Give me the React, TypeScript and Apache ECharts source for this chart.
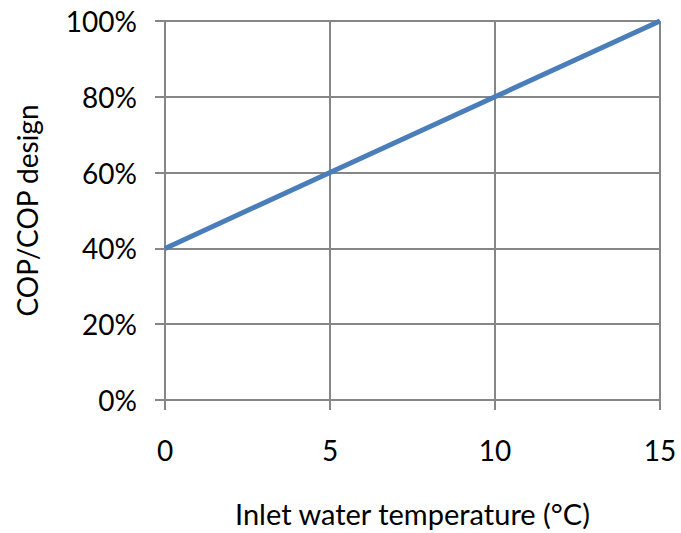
import React, { useEffect, useRef } from "react";
import * as echarts from "echarts";

const temps = [0, 5, 10, 15];
const copRatio = [40, 60, 80, 100];

export default function App() {
  const ref = useRef<HTMLDivElement>(null);
  useEffect(() => {
    const chart = echarts.init(ref.current!, null, { renderer: "svg" });
    const font = "Lato, 'Open Sans', sans-serif";
    chart.setOption({
      animation: false,
      grid: { left: 165, right: 21, top: 21, bottom: 131 },
      xAxis: {
        type: "value",
        min: 0,
        max: 15,
        interval: 5,
        name: "Inlet water temperature (°C)",
        nameLocation: "middle",
        nameGap: 99,
        nameTextStyle: { fontSize: 29, color: "#000", fontFamily: font },
        axisLine: { show: true, onZero: false, lineStyle: { color: "#868686", width: 2 } },
        axisTick: { show: true, length: 10, lineStyle: { color: "#868686", width: 2 } },
        axisLabel: { fontSize: 28, color: "#000", fontFamily: font, margin: 36 },
        splitLine: { show: true, lineStyle: { color: "#868686", width: 2 } },
      },
      yAxis: {
        type: "value",
        min: 0,
        max: 100,
        interval: 20,
        name: "COP/COP design",
        nameLocation: "middle",
        nameGap: 124,
        nameTextStyle: { fontSize: 28, color: "#000", fontFamily: font },
        axisLine: { show: true, lineStyle: { color: "#868686", width: 2 } },
        axisTick: { show: true, length: 10, lineStyle: { color: "#868686", width: 2 } },
        axisLabel: { fontSize: 28, color: "#000", fontFamily: font, margin: 28, formatter: "{value}%" },
        splitLine: { show: true, lineStyle: { color: "#868686", width: 2 } },
      },
      series: [
        {
          type: "line",
          data: temps.map((t, i) => [t, copRatio[i]]),
          symbol: "none",
          lineStyle: { color: "#4A7EBB", width: 5 },
        },
      ],
    });
    return () => chart.dispose();
  }, []);
  return <div ref={ref} style={{ width: 681, height: 533, position: "absolute", left: 0, top: 0 }} />;
}
